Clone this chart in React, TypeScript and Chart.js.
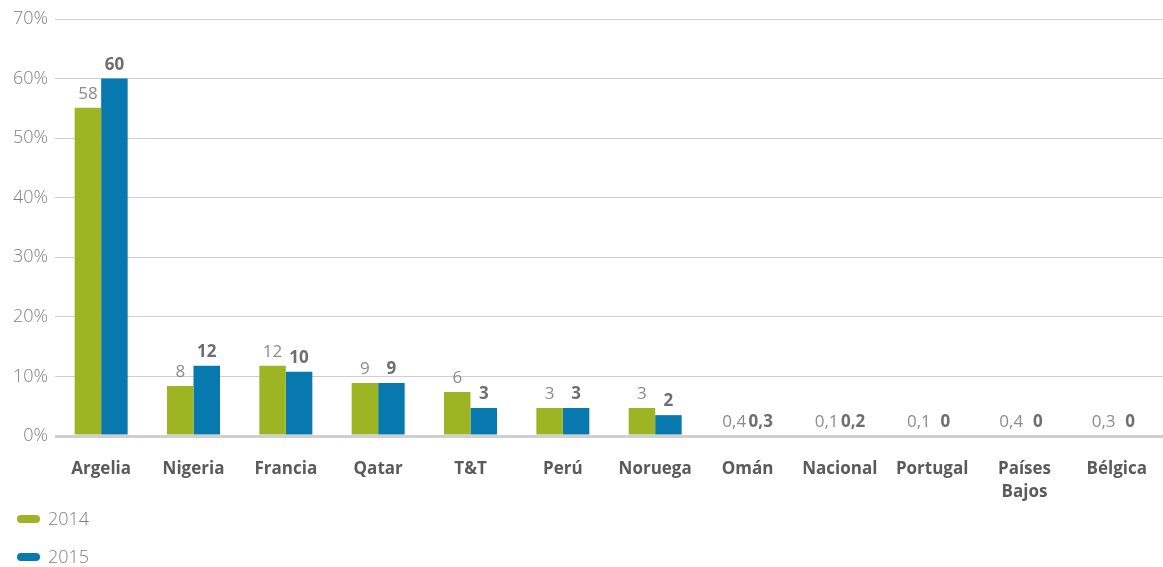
import React, { useEffect, useRef } from "react";
import { Chart, registerables } from "chart.js";

Chart.register(...registerables);

const categories: (string | string[])[] = [
  "Argelia", "Nigeria", "Francia", "Qatar", "T&T", "Perú", "Noruega",
  "Omán", "Nacional", "Portugal", ["Países", "Bajos"], "Bélgica",
];
const values2014 = [55.1, 8.4, 11.8, 8.9, 7.4, 4.7, 4.7, 0, 0, 0, 0, 0];
const values2015 = [60.0, 11.8, 10.8, 8.9, 4.7, 4.7, 3.5, 0, 0, 0, 0, 0];
const labels2014 = ["58", "8", "12", "9", "6", "3", "3", "0,4", "0,1", "0,1", "0,4", "0,3"];
const labels2015 = ["60", "12", "10", "9", "3", "3", "2", "0,3", "0,2", "0", "0", "0"];
const yTicks = [0, 10, 20, 30, 40, 50, 60, 70];

const GREEN = "#9db523";
const BLUE = "#0779ae";
const FONT = "'Open Sans', 'Noto Sans', sans-serif";

const valueLabels = {
  id: "valueLabels",
  afterDatasetsDraw(chart: any) {
    const ctx = chart.ctx;
    const texts = [labels2014, labels2015];
    chart.data.datasets.forEach((_ds: any, di: number) => {
      const meta = chart.getDatasetMeta(di);
      meta.data.forEach((bar: any, i: number) => {
        ctx.save();
        ctx.textAlign = "center";
        ctx.textBaseline = "bottom";
        if (di === 0) {
          ctx.font = `400 17px ${FONT}`;
          ctx.fillStyle = "#8c8c8c";
        } else {
          ctx.font = `bold 17px ${FONT}`;
          ctx.fillStyle = "#6e6e6e";
        }
        ctx.fillText(texts[di][i], bar.x, bar.y - 5);
        ctx.restore();
      });
    });
  },
};

const stackedLegend = {
  id: "stackedLegend",
  afterDraw(chart: any) {
    const ctx = chart.ctx;
    chart.data.datasets.forEach((ds: any, i: number) => {
      const cy = 519 + i * 38;
      ctx.save();
      ctx.fillStyle = ds.backgroundColor;
      ctx.beginPath();
      (ctx as any).roundRect(17, cy - 4, 23, 8, 4);
      ctx.fill();
      ctx.font = `300 18px ${FONT}`;
      ctx.fillStyle = "#7f7f7f";
      ctx.textAlign = "left";
      ctx.textBaseline = "middle";
      ctx.fillText(ds.label, 48, cy + 1);
      ctx.restore();
    });
  },
};

export default function App() {
  const ref = useRef<HTMLCanvasElement>(null);
  useEffect(() => {
    if (!ref.current) return;
    const chart = new Chart(ref.current, {
      type: "bar",
      data: {
        labels: categories,
        datasets: [
          { label: "2014", data: values2014, backgroundColor: GREEN },
          { label: "2015", data: values2015, backgroundColor: BLUE },
        ],
      },
      options: {
        animation: false,
        responsive: false,
        layout: { autoPadding: false, padding: { top: 19, left: 0, right: 0, bottom: 0 } } as any,
        plugins: { legend: { display: false }, tooltip: { enabled: false } },
        datasets: { bar: { categoryPercentage: 0.574, barPercentage: 1 } },
        scales: {
          x: {
            grid: { display: false, drawTicks: false },
            border: { display: false },
            ticks: {
              padding: 22,
              color: "#5a5a5a",
              font: { family: FONT, size: 17, weight: "bold", lineHeight: 1.35 },
              maxRotation: 0,
              autoSkip: false,
            },
            afterFit(scale: any) {
              scale.height = 131;
              scale.paddingLeft = 0;
              scale.paddingRight = 0;
            },
          },
          y: {
            min: 0,
            max: 70,
            afterBuildTicks(scale: any) {
              scale.ticks = yTicks.map((v) => ({ value: v }));
            },
            grid: {
              color: "#cfcfcf",
              lineWidth: (c: any) => (c.tick && c.tick.value === 0 ? 3 : 1),
              drawTicks: false,
            },
            border: { display: false },
            ticks: {
              padding: 7,
              color: "#808080",
              font: { family: FONT, size: 18, weight: "300" },
              callback: (v: any) => `${v}%`,
            },
            afterFit(scale: any) {
              scale.width = 55;
            },
          },
        },
      },
      plugins: [valueLabels, stackedLegend],
    });
    return () => chart.destroy();
  }, []);
  return (
    <div style={{ position: "absolute", left: 0, top: 0, width: 1163, height: 567, background: "#fff" }}>
      <canvas ref={ref} width={1163} height={567} />
    </div>
  );
}
